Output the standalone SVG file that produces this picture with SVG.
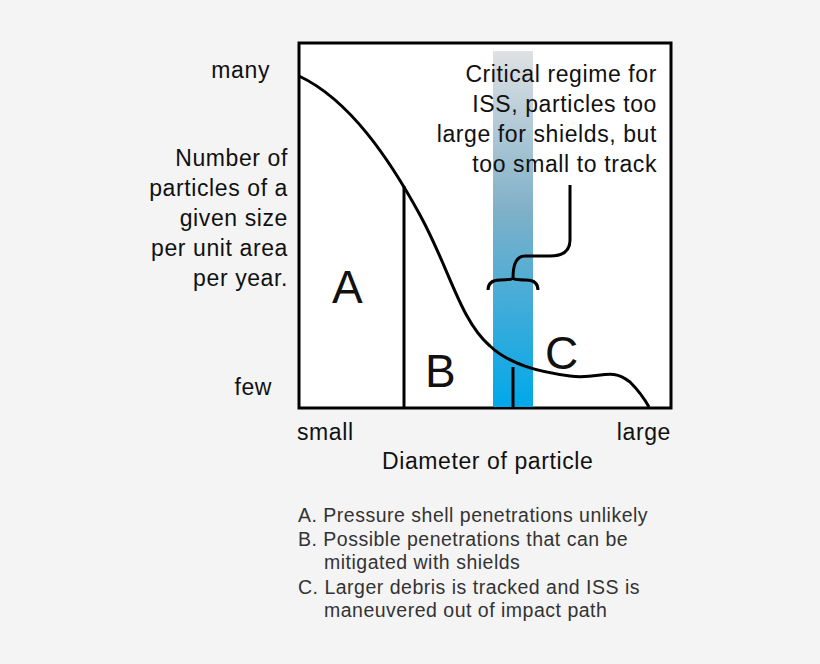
<svg xmlns="http://www.w3.org/2000/svg" width="820" height="664" viewBox="0 0 820 664">
<style>
text{font-family:"Liberation Sans",Arial,sans-serif;fill:#111}
.ln{fill:none;stroke:#000;stroke-width:3}
.lab{font-size:23px;letter-spacing:0.6px}
.big{font-size:46px}
.leg{font-size:19.5px;fill:#333;letter-spacing:0.5px}
</style>
<defs><linearGradient id="g" x1="0" y1="0" x2="0" y2="1"><stop offset="0" stop-color="#dfe1e3"/><stop offset="0.45" stop-color="#7fb0c8"/><stop offset="1" stop-color="#00a8ea"/></linearGradient></defs>
<rect width="820" height="664" fill="#f4f4f4"/>
<g id="plot">
<rect x="299" y="43" width="372" height="365" fill="#fff" stroke="#000" stroke-width="3"/>
<rect x="493" y="51" width="40" height="356" fill="url(#g)"/>
</g>
<g id="connectors">
<path class="ln" d="M299,76 C350,100 390,160 420,215 C450,270 460,320 490,346 C510,365 540,372 570,376 C600,380 610,366 630,382 C638,390 644,398 649,407"/>
<path class="ln" d="M404,186 V407 M513,367 V407"/>
<path class="ln" d="M570,185 V240 Q570,256 550,256 H525 Q513,256 513,278 Q513,280 500,280 Q488,280 488,290 M513,278 Q513,280 526,280 Q538,280 538,290"/>
</g>
<g id="labels">
<text class="lab" x="657" y="82" text-anchor="end">Critical regime for</text>
<text class="lab" x="657" y="112" text-anchor="end">ISS, particles too</text>
<text class="lab" x="657" y="142" text-anchor="end">large for shields, but</text>
<text class="lab" x="657" y="172" text-anchor="end">too small to track</text>
<text class="big" x="332" y="303">A</text>
<text class="big" x="425" y="387">B</text>
<text class="big" x="545" y="369">C</text>
<text class="lab" x="270" y="78" text-anchor="end">many</text>
<text class="lab" x="288" y="166" text-anchor="end">Number of</text>
<text class="lab" x="288" y="196" text-anchor="end">particles of a</text>
<text class="lab" x="288" y="226" text-anchor="end">given size</text>
<text class="lab" x="288" y="256" text-anchor="end">per unit area</text>
<text class="lab" x="288" y="286" text-anchor="end">per year.</text>
<text class="lab" x="272" y="395" text-anchor="end">few</text>
<text class="lab" x="297" y="440">small</text>
<text class="lab" x="671" y="440" text-anchor="end">large</text>
<text class="lab" x="382" y="469">Diameter of particle</text>
</g>
<g id="legend">
<text class="leg" x="298" y="522">A. Pressure shell penetrations unlikely</text>
<text class="leg" x="298" y="546">B. Possible penetrations that can be</text>
<text class="leg" x="324" y="569">mitigated with shields</text>
<text class="leg" x="298" y="594">C. Larger debris is tracked and ISS is</text>
<text class="leg" x="324" y="617">maneuvered out of impact path</text>
</g>
</svg>
